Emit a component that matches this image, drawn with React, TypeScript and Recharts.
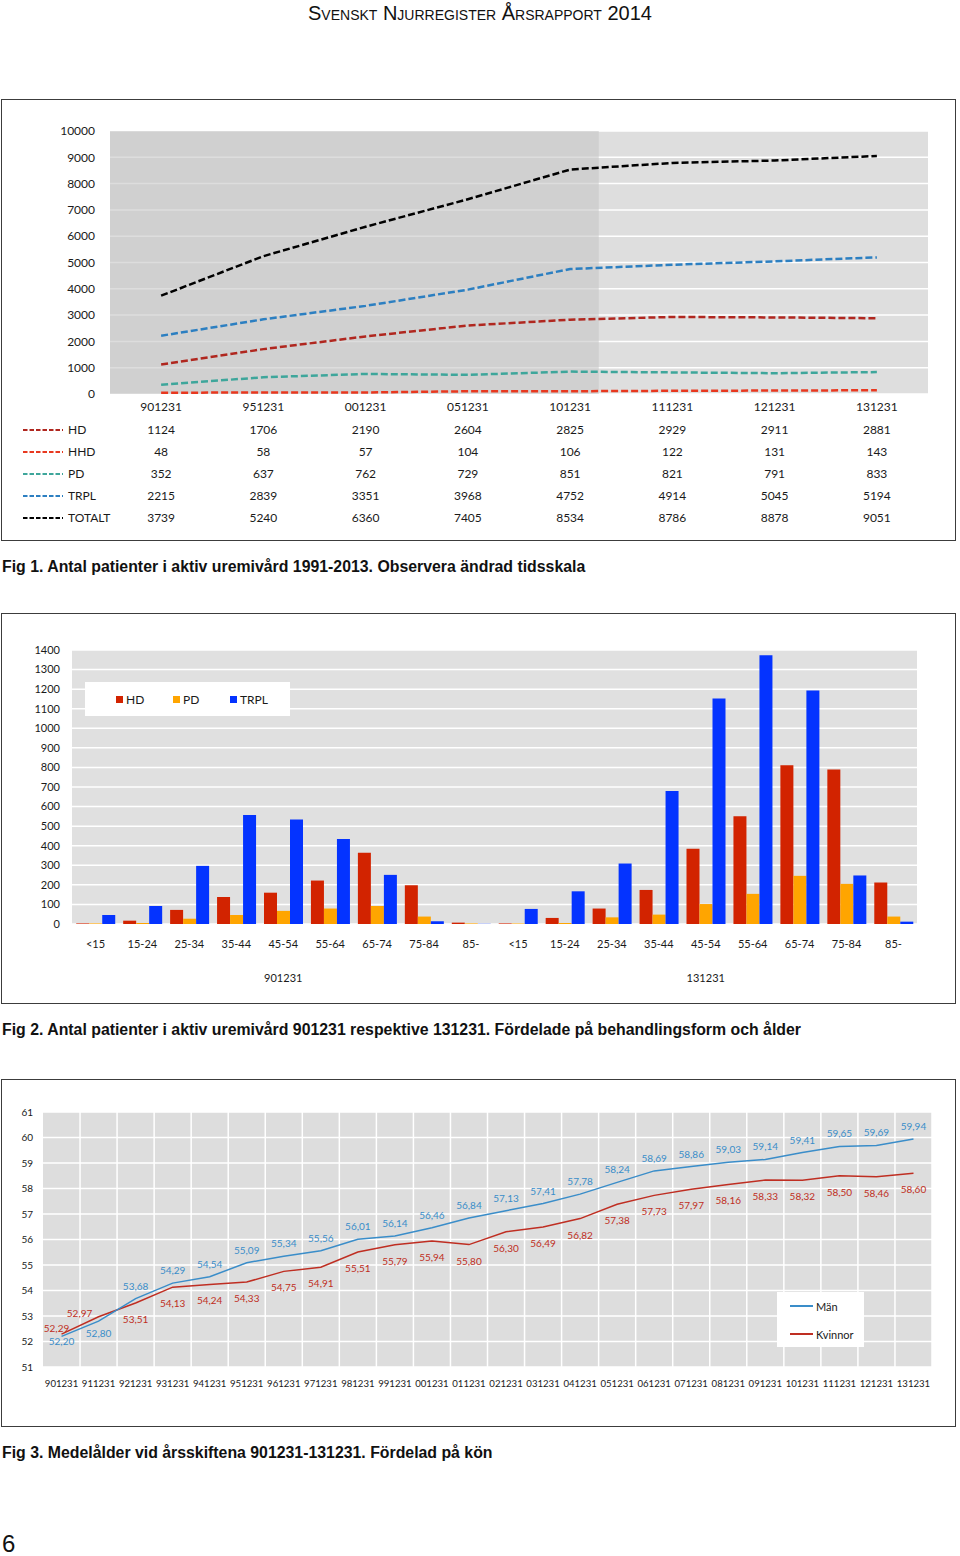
import React from "react";
import {
  LineChart,
  Line,
  BarChart,
  Bar,
  XAxis,
  YAxis,
  CartesianGrid,
  ReferenceArea,
  Legend,
  LabelList,
} from "recharts";

const FONT = "Lato, 'Open Sans', sans-serif";
const PAGE_FONT = "'Liberation Sans', Arial, sans-serif";

// ---------- Fig 1: patients per treatment ----------
const fig1Years = ["901231", "951231", "001231", "051231", "101231", "111231", "121231", "131231"];
const hdTotals = [1124, 1706, 2190, 2604, 2825, 2929, 2911, 2881];
const hhdTotals = [48, 58, 57, 104, 106, 122, 131, 143];
const pdTotals = [352, 637, 762, 729, 851, 821, 791, 833];
const trplTotals = [2215, 2839, 3351, 3968, 4752, 4914, 5045, 5194];
const allTotals = [3739, 5240, 6360, 7405, 8534, 8786, 8878, 9051];
const fig1YTicks = [0, 1000, 2000, 3000, 4000, 5000, 6000, 7000, 8000, 9000, 10000];
// the five-year scale is shaded, the yearly part is not
const fiveYearSpan = 4.78;

// ---------- Fig 2: patients per age group ----------
const ageGroups = ["<15", "15-24", "25-34", "35-44", "45-54", "55-64", "65-74", "75-84", "85-"];
const periods = ["901231", "131231"];
const hdByAge = [
  [3, 17, 72, 138, 160, 222, 364, 198, 7],
  [3, 31, 79, 174, 384, 551, 811, 789, 212],
];
const pdByAge = [
  [3, 5, 27, 46, 67, 79, 92, 38, 3],
  [3, 5, 34, 48, 102, 154, 246, 205, 38],
];
const trplByAge = [
  [46, 92, 297, 557, 534, 434, 251, 14, 1],
  [77, 167, 309, 680, 1152, 1373, 1193, 248, 12],
];
const fig2YTicks = [0, 100, 200, 300, 400, 500, 600, 700, 800, 900, 1000, 1100, 1200, 1300, 1400];

// ---------- Fig 3: mean age by sex ----------
const fig3Dates = [
  "901231", "911231", "921231", "931231", "941231", "951231", "961231", "971231",
  "981231", "991231", "001231", "011231", "021231", "031231", "041231", "051231",
  "061231", "071231", "081231", "091231", "101231", "111231", "121231", "131231",
];
const menAge = [
  52.2, 52.8, 53.68, 54.29, 54.54, 55.09, 55.34, 55.56, 56.01, 56.14, 56.46, 56.84,
  57.13, 57.41, 57.78, 58.24, 58.69, 58.86, 59.03, 59.14, 59.41, 59.65, 59.69, 59.94,
];
const womenAge = [
  52.29, 52.97, 53.51, 54.13, 54.24, 54.33, 54.75, 54.91, 55.51, 55.79, 55.94, 55.8,
  56.3, 56.49, 56.82, 57.38, 57.73, 57.97, 58.16, 58.33, 58.32, 58.5, 58.46, 58.6,
];
const fig3YTicks = [51, 52, 53, 54, 55, 56, 57, 58, 59, 60, 61];

const fig1Series = [
  { key: "HD", values: hdTotals, color: "#b0271f" },
  { key: "HHD", values: hhdTotals, color: "#e8381f" },
  { key: "PD", values: pdTotals, color: "#3ea69b" },
  { key: "TRPL", values: trplTotals, color: "#2c7fc1" },
  { key: "TOTALT", values: allTotals, color: "#000000" },
];

const fig1Data = fig1Years.map((year, i) => {
  const row: Record<string, string | number> = { year, slot: i + 0.5 };
  fig1Series.forEach((s) => (row[s.key] = s.values[i]));
  return row;
});

const fig2Series = [
  { key: "HD", values: hdByAge, color: "#d22300" },
  { key: "PD", values: pdByAge, color: "#ffa500" },
  { key: "TRPL", values: trplByAge, color: "#0433ff" },
];

const fig2Data = periods.flatMap((period, p) =>
  ageGroups.map((age, a) => {
    const row: Record<string, string | number> = { age, period };
    fig2Series.forEach((s) => (row[s.key] = s.values[p][a]));
    return row;
  })
);

const fig3Data = fig3Dates.map((date, i) => ({ date, Män: menAge[i], Kvinnor: womenAge[i] }));

const MEN_COLOR = "#3a8dc9";
const WOMEN_COLOR = "#bf2e22";

const ROW_GAP = 22;

function Fig1Tick(props: any) {
  const { x, y, payload, index } = props;
  const col = fig1Years.indexOf(payload.value);
  return (
    <g fontFamily={FONT} fontSize={12} fill="#1a1a1a">
      <text x={x} y={y + 17} textAnchor="middle">
        {payload.value}
      </text>
      {fig1Series.map((s, r) => (
        <text key={s.key} x={x} y={y + 40 + r * ROW_GAP} textAnchor="middle">
          {s.values[col]}
        </text>
      ))}
      {index === 0 &&
        fig1Series.map((s, r) => (
          <g key={"key-" + s.key}>
            <line
              x1={22}
              x2={62}
              y1={y + 36 + r * ROW_GAP}
              y2={y + 36 + r * ROW_GAP}
              stroke={s.color}
              strokeWidth={2}
              strokeDasharray="4.5 2"
            />
            <text x={67} y={y + 40 + r * ROW_GAP} textAnchor="start">
              {s.key}
            </text>
          </g>
        ))}
    </g>
  );
}

function PeriodTick(props: any) {
  const { x, y, payload, index } = props;
  if (index % ageGroups.length !== Math.floor(ageGroups.length / 2)) return null;
  return (
    <text x={x} y={y + 12} textAnchor="middle" fontFamily={FONT} fontSize={11} fill="#1a1a1a">
      {payload.value}
    </text>
  );
}

function Fig2Legend() {
  return (
    <div
      style={{
        background: "#fff",
        width: 205,
        height: 34,
        display: "flex",
        alignItems: "center",
        paddingLeft: 31,
        boxSizing: "border-box",
        fontFamily: FONT,
        fontSize: 12,
        color: "#1a1a1a",
      }}
    >
      {fig2Series.map((s) => (
        <div key={s.key} style={{ width: 57, display: "flex", alignItems: "center" }}>
          <span style={{ width: 7, height: 7, background: s.color, marginRight: 3 }} />
          {s.key}
        </div>
      ))}
    </div>
  );
}

function Fig3Legend() {
  const items = [
    { name: "Män", color: MEN_COLOR },
    { name: "Kvinnor", color: WOMEN_COLOR },
  ];
  return (
    <div
      style={{
        background: "#fff",
        width: 87,
        height: 55,
        paddingTop: 0,
        boxSizing: "border-box",
        fontFamily: FONT,
        fontSize: 11,
        color: "#1a1a1a",
      }}
    >
      {items.map((it) => (
        <div key={it.name} style={{ height: 28, display: "flex", alignItems: "center", paddingLeft: 13 }}>
          <span style={{ width: 23, height: 1.5, background: it.color, marginRight: 3 }} />
          {it.name}
        </div>
      ))}
    </div>
  );
}

const formatAge = (v: number) => v.toFixed(2).replace(".", ",");

const menPlacement = (i: number) => (i === 0 ? { dx: 0, dy: 5 } : i === 1 ? { dx: 0, dy: 12 } : { dx: 0, dy: -13 });
const womenPlacement = (i: number) =>
  i === 0 ? { dx: -5, dy: -6 } : i === 1 ? { dx: -19, dy: -4 } : { dx: 0, dy: 16 };

const makeAgeLabel = (color: string, placement: (i: number) => { dx: number; dy: number }) => (props: any) => {
  const { x, y, value, index } = props;
  const { dx, dy } = placement(index);
  return (
    <text
      x={x + dx}
      y={y + dy}
      textAnchor="middle"
      dominantBaseline="central"
      fontFamily={FONT}
      fontSize={10}
      fill={color}
    >
      {formatAge(value)}
    </text>
  );
};

const boxStyle = (top: number, height: number): React.CSSProperties => ({
  position: "absolute",
  left: 1,
  top,
  width: 955,
  height,
  outline: "1px solid #3c3c3c",
  outlineOffset: -1,
  background: "#fff",
});

const captionStyle = (top: number): React.CSSProperties => ({
  position: "absolute",
  left: 2,
  top,
  fontFamily: PAGE_FONT,
  fontWeight: "bold",
  fontSize: 15.85,
  lineHeight: "18px",
  color: "#111",
  whiteSpace: "nowrap",
});

export default function App() {
  return (
    <div style={{ position: "absolute", left: 0, top: 0, width: 960, height: 1556, background: "#fff" }}>
      <div
        style={{
          position: "absolute",
          left: 0,
          top: 2,
          width: 960,
          textAlign: "center",
          fontFamily: PAGE_FONT,
          fontSize: 20,
          fontVariant: "small-caps",
          lineHeight: "22px",
          color: "#111",
        }}
      >
        Svenskt Njurregister Årsrapport 2014
      </div>

      {/* Fig 1 */}
      <div style={boxStyle(99, 442)}>
        <LineChart width={955} height={442} data={fig1Data} margin={{ top: 32, right: 28, bottom: 0, left: 49 }}>
          <CartesianGrid vertical={false} stroke="#ffffff" strokeWidth={1.5} fill="#dedede" />
          <XAxis
            dataKey="year"
            scale="band"
            interval={0}
            axisLine={false}
            tickLine={false}
            tickSize={0}
            tickMargin={0}
            height={147}
            tick={(p: any) => <Fig1Tick {...p} />}
          />
          <XAxis
            xAxisId="span"
            dataKey="slot"
            type="number"
            domain={[0, fig1Years.length]}
            allowDataOverflow
            hide
          />
          <YAxis
            domain={[0, 10000]}
            ticks={fig1YTicks}
            interval={0}
            width={60}
            axisLine={false}
            tickLine={false}
            tickSize={0}
            tickMargin={15}
            tick={{ fontFamily: FONT, fontSize: 12, fill: "#1a1a1a" }}
          />
          <ReferenceArea xAxisId="span" x1={0} x2={fiveYearSpan} fill="#c6c6c6" fillOpacity={0.6} stroke="none" />
          {fig1Series.map((s) => (
            <Line
              key={s.key}
              type="linear"
              dataKey={s.key}
              stroke={s.color}
              strokeWidth={2.5}
              strokeDasharray="7 3"
              dot={false}
              isAnimationActive={false}
            />
          ))}
        </LineChart>
      </div>
      <div style={captionStyle(558)}>Fig 1. Antal patienter i aktiv uremivård 1991-2013. Observera ändrad tidsskala</div>

      {/* Fig 2 */}
      <div style={boxStyle(613, 391)}>
        <BarChart
          width={955}
          height={391}
          data={fig2Data}
          margin={{ top: 37, right: 39, bottom: 0, left: 21 }}
          barCategoryGap="9%"
          barGap={0}
        >
          <CartesianGrid vertical={false} stroke="#ffffff" strokeWidth={1.5} fill="#e0e0e0" />
          <XAxis
            dataKey="age"
            interval={0}
            axisLine={false}
            tickLine={false}
            tickSize={0}
            tickMargin={16}
            height={34}
            tick={{ fontFamily: FONT, fontSize: 11, fill: "#1a1a1a" }}
          />
          <XAxis
            xAxisId="period"
            dataKey="period"
            interval={0}
            axisLine={false}
            tickLine={false}
            tickSize={0}
            tickMargin={12}
            height={46}
            tick={(p: any) => <PeriodTick {...p} />}
          />
          <YAxis
            domain={[0, 1400]}
            ticks={fig2YTicks}
            interval={0}
            width={50}
            axisLine={false}
            tickLine={false}
            tickSize={0}
            tickMargin={12}
            tick={{ fontFamily: FONT, fontSize: 11, fill: "#1a1a1a" }}
          />
          <Legend
            layout="horizontal"
            verticalAlign="middle"
            align="center"
            wrapperStyle={{ left: 84, top: 69, width: 205, height: 34 }}
            content={() => <Fig2Legend />}
          />
          {fig2Series.map((s) => (
            <Bar key={s.key} dataKey={s.key} fill={s.color} isAnimationActive={false} />
          ))}
        </BarChart>
      </div>
      <div style={captionStyle(1021)}>
        Fig 2. Antal patienter i aktiv uremivård 901231 respektive 131231. Fördelade på behandlingsform och ålder
      </div>

      {/* Fig 3 */}
      <div style={boxStyle(1079, 348)}>
        <LineChart width={955} height={348} data={fig3Data} margin={{ top: 33, right: 24, bottom: 0, left: 12 }}>
          <CartesianGrid
            stroke="#ffffff"
            strokeWidth={1.5}
            fill="#dddddd"
            verticalCoordinatesGenerator={({ offset }: any) =>
              fig3Dates.map((_, i) => offset.left + ((i + 1) * offset.width) / fig3Dates.length)
            }
          />
          <XAxis
            dataKey="date"
            scale="band"
            interval={0}
            axisLine={false}
            tickLine={false}
            tickSize={0}
            tickMargin={13}
            height={60}
            tick={{ fontFamily: FONT, fontSize: 9.6, fill: "#1a1a1a" }}
          />
          <YAxis
            domain={[51, 61]}
            ticks={fig3YTicks}
            interval={0}
            width={30}
            axisLine={false}
            tickLine={false}
            tickSize={0}
            tickMargin={10}
            tick={{ fontFamily: FONT, fontSize: 10, fill: "#1a1a1a" }}
          />
          <Legend
            layout="horizontal"
            verticalAlign="middle"
            align="center"
            wrapperStyle={{ left: 776, top: 213, width: 87, height: 55 }}
            content={() => <Fig3Legend />}
          />
          <Line type="linear" dataKey="Kvinnor" stroke={WOMEN_COLOR} strokeWidth={1.5} dot={false} isAnimationActive={false}>
            <LabelList dataKey="Kvinnor" content={makeAgeLabel(WOMEN_COLOR, womenPlacement)} />
          </Line>
          <Line type="linear" dataKey="Män" stroke={MEN_COLOR} strokeWidth={1.5} dot={false} isAnimationActive={false}>
            <LabelList dataKey="Män" content={makeAgeLabel(MEN_COLOR, menPlacement)} />
          </Line>
        </LineChart>
      </div>
      <div style={captionStyle(1444)}>Fig 3. Medelålder vid årsskiftena 901231-131231. Fördelad på kön</div>

      <div
        style={{
          position: "absolute",
          left: 2,
          top: 1531,
          fontFamily: PAGE_FONT,
          fontSize: 24,
          lineHeight: "26px",
          color: "#111",
        }}
      >
        6
      </div>
    </div>
  );
}
